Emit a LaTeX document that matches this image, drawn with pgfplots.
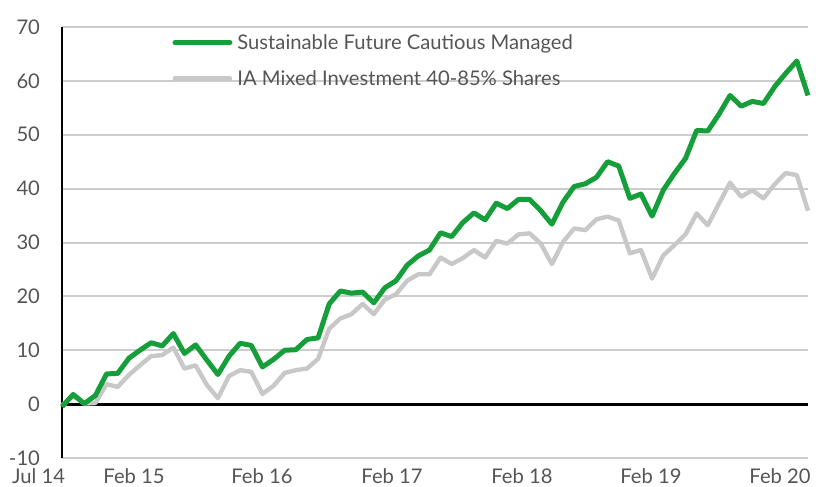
\documentclass[border=0pt]{standalone}
\usepackage{pgfplots}
\pgfplotsset{compat=1.18}
\usepackage{fontspec}
\setmainfont{Lato}
\definecolor{fundgreen}{RGB}{22,158,58}
\definecolor{sectorgray}{RGB}{200,200,200}
\definecolor{gridgray}{RGB}{205,205,205}
\definecolor{txtgray}{RGB}{85,85,85}
\begin{document}
\begin{tikzpicture}
\begin{axis}[
  at={(0pt,0pt)}, anchor=south west,
  scale only axis, width=373pt, height=215.5pt,
  xmin=0, xmax=67, ymin=-10, ymax=70,
  enlargelimits=false, clip=false,
  ytick={-10,0,10,20,30,40,50,60,70},
  xtick={0.27,6.47,17.96,29.64,41.31,52.9,64.49},
  xticklabels={\makebox[0pt][r]{Jul 14},Feb 15,Feb 16,Feb 17,Feb 18,Feb 19,Feb 20},
  major tick length=0pt,
  ymajorgrids, grid style={gridgray, line width=1pt},
  axis lines=left,
  x axis line style={draw=none},
  y axis line style={-, black, line width=1.4pt},
  tick label style={font=\fontsize{10.1}{12}\selectfont, text=txtgray},
  yticklabel style={xshift=-7.5pt},
  xticklabel style={yshift=-1.8pt},
  /pgf/number format/assume math mode=true,
  legend style={at={(0.1475,0.981)}, anchor=north west, draw=none, fill=none,
    inner sep=0pt, row sep=10.8pt, column sep=2.5pt,
    nodes={inner sep=0pt, text height=7.1pt, text depth=0pt,
      font=\fontsize{10.1}{12}\selectfont, text=txtgray}},
  legend cell align=left,
  legend image code/.code={\draw[#1, line cap=round] (0pt,0pt) -- (27.5pt,0pt);},
]
\addplot[black, line width=1.4pt, forget plot] coordinates {(0,0) (67,0)};
\addplot[sectorgray, line width=2.2pt, line join=round, forget plot] table {
x y
0 -0.2
1 1.5
2 0.1
3 0.2
4 3.7
5 3.2
6 5.4
7 7.2
8 8.9
9 9.1
10 10.5
11 6.6
12 7.2
13 3.6
14 1.1
15 5.2
16 6.3
17 6.0
18 1.9
19 3.4
20 5.8
21 6.3
22 6.6
23 8.4
24 14.0
25 15.9
26 16.7
27 18.6
28 16.7
29 19.4
30 20.4
31 22.9
32 24.1
33 24.1
34 27.2
35 26.0
36 27.1
37 28.6
38 27.2
39 30.3
40 29.8
41 31.5
42 31.7
43 29.8
44 26.0
45 30.1
46 32.6
47 32.3
48 34.3
49 34.8
50 34.1
51 28.0
52 28.6
53 23.3
54 27.6
55 29.5
56 31.5
57 35.4
58 33.2
59 37.2
60 41.1
61 38.5
62 39.7
63 38.2
64 40.8
65 42.9
66 42.5
67 35.9
};
\addplot[fundgreen, line width=2.5pt, line join=round] table {
x y
0 -0.5
1 1.8
2 0.1
3 1.6
4 5.6
5 5.7
6 8.5
7 10.0
8 11.4
9 10.8
10 13.1
11 9.4
12 11.0
13 8.2
14 5.5
15 8.9
16 11.3
17 10.9
18 6.9
19 8.3
20 10.0
21 10.1
22 12.0
23 12.3
24 18.6
25 21.0
26 20.6
27 20.8
28 18.8
29 21.6
30 22.9
31 25.8
32 27.5
33 28.6
34 31.8
35 31.1
36 33.7
37 35.5
38 34.2
39 37.3
40 36.3
41 38.0
42 38.0
43 35.9
44 33.4
45 37.5
46 40.4
47 40.9
48 42.1
49 45.0
50 44.2
51 38.2
52 39.0
53 34.9
54 39.7
55 42.8
56 45.6
57 50.8
58 50.7
59 53.8
60 57.3
61 55.3
62 56.2
63 55.8
64 58.9
65 61.4
66 63.7
67 57.3
};
\addlegendentry{Sustainable Future Cautious Managed}
\addlegendimage{sectorgray, line width=2.2pt}
\addlegendentry{IA Mixed Investment 40-85\% Shares}
\end{axis}
\pgfresetboundingbox
\path (-31pt,-14.5pt) rectangle (377pt,229pt);
\end{tikzpicture}
\end{document}
